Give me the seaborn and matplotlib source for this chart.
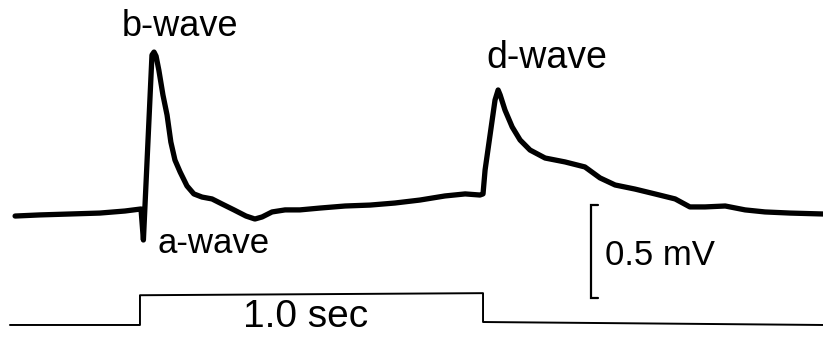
import matplotlib
matplotlib.use("Agg")
import matplotlib.pyplot as plt
import numpy as np
import pandas as pd
import seaborn as sns

# ERG response to a 1.0 s light step (time in s, potential in mV)
erg_time = [-0.364, -0.292, -0.204, -0.117, -0.044, 0.003, 0.010, 0.035, 0.041,
            0.047, 0.055, 0.067, 0.079, 0.090, 0.102, 0.117, 0.137, 0.157,
            0.181, 0.210, 0.239, 0.274, 0.309, 0.335, 0.356, 0.385, 0.423,
            0.466, 0.525, 0.598, 0.671, 0.743, 0.816, 0.889, 0.948, 0.991,
            1.000, 1.006, 1.035, 1.044, 1.050, 1.064, 1.085, 1.108, 1.137,
            1.181, 1.239, 1.297, 1.341, 1.385, 1.443, 1.501, 1.560, 1.603,
            1.647, 1.706, 1.764, 1.822, 1.895, 1.991]
erg_mv = [-0.011, -0.005, 0.000, 0.005, 0.016, 0.027, -0.140, 0.855, 0.871,
          0.849, 0.774, 0.640, 0.532, 0.387, 0.290, 0.226, 0.151, 0.108,
          0.091, 0.081, 0.054, 0.022, -0.011, -0.027, -0.016, 0.011, 0.022,
          0.022, 0.032, 0.043, 0.048, 0.059, 0.075, 0.097, 0.108, 0.102,
          0.108, 0.237, 0.613, 0.667, 0.640, 0.559, 0.468, 0.398, 0.344,
          0.301, 0.280, 0.253, 0.194, 0.156, 0.134, 0.108, 0.081, 0.038,
          0.038, 0.043, 0.022, 0.011, 0.005, 0.000]

# Stimulus monitor (0 = off, 1 = on)
stim_time = [-0.379, 0.000, 0.000, 1.000, 1.000, 1.991]
stim_level = [0.0, 0.0, 1.0, 1.07, 0.1, 0.0]

scale_bar_mv = 0.5
stim_duration_s = 1.0

sns.set_theme(style="white")
plt.rcParams["font.family"] = ["Liberation Sans", "DejaVu Sans"]
plt.rcParams["text.color"] = "black"

fig = plt.figure(figsize=(8.23, 3.38), dpi=100)
ax = fig.add_axes([0, 0, 1, 1])

erg = pd.DataFrame({"t": erg_time, "mv": erg_mv})
sns.lineplot(data=erg, x="t", y="mv", ax=ax, color="black", lw=3.8,
             sort=False, estimator=None, solid_capstyle="round",
             solid_joinstyle="round")

# stimulus trace drawn below the response
stim_base, stim_height = -0.597, 0.160
stim = pd.DataFrame({"t": stim_time,
                     "y": [stim_base + stim_height * s for s in stim_level]})
sns.lineplot(data=stim, x="t", y="y", ax=ax, color="black", lw=1.4,
             sort=False, estimator=None)

# vertical scale bar
bar_t, bar_top = 1.315, 0.048
bar_bottom = bar_top - scale_bar_mv
tick = 0.02
ax.plot([bar_t + tick, bar_t, bar_t, bar_t + tick],
        [bar_top, bar_top, bar_bottom, bar_bottom],
        color="black", lw=1.6, solid_joinstyle="miter")

fs = 26
ax.text(0.117, 0.957, "b-wave", ha="center", va="baseline", fontsize=fs)
ax.text(1.187, 0.785, "d-wave", ha="center", va="baseline", fontsize=fs + 1)
ax.text(0.050, -0.210, "a-wave", ha="left", va="baseline", fontsize=fs - 1)
ax.text(1.356, -0.274, f"{scale_bar_mv} mV", ha="left", va="baseline",
        fontsize=fs - 1)
ax.text(stim_duration_s * 0.484, -0.608, f"{stim_duration_s:.1f} sec",
        ha="center", va="baseline", fontsize=fs + 2)

ax.set_xlim(-0.408, 1.991)
ax.set_ylim(-0.667, 1.151)
ax.set_axis_off()

fig.savefig("out.png", dpi=100, facecolor="white")
